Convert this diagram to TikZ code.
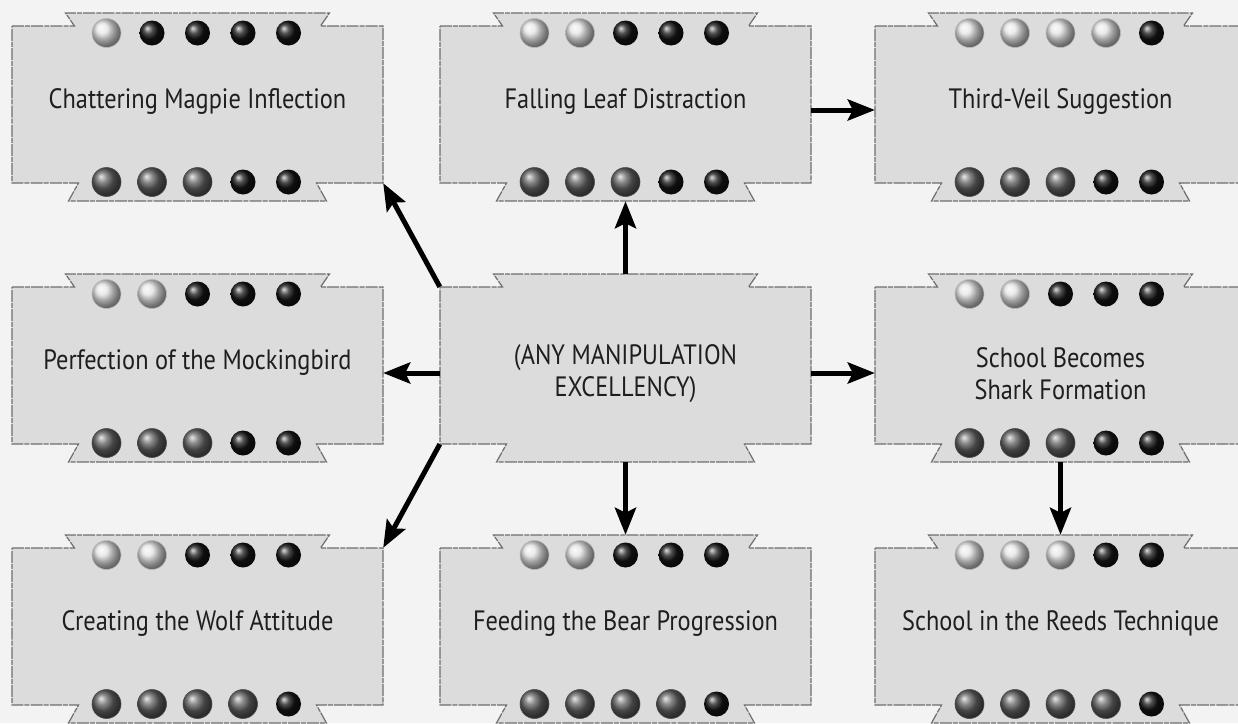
\documentclass[tikz,border=0pt]{standalone}
\usepackage{fontspec}
\setmainfont{PT Sans}[FakeStretch=0.87]
\usetikzlibrary{arrows.meta,calc}
\definecolor{bgc}{HTML}{F3F3F3}
\definecolor{boxc}{HTML}{DCDCDC}
\definecolor{edgec}{HTML}{6E6E6E}
\definecolor{txtc}{HTML}{1E1E1E}
\tikzset{
  boxnode/.style={rectangle, minimum width=371pt, minimum height=188pt, inner sep=0pt, draw=none},
  boxline/.style={fill=boxc, draw=edgec, line width=1.2pt, dash pattern=on 12pt off 1.2pt on 5pt off 1pt, line join=miter},
  boxtext/.style={font=\fontsize{28}{32}\selectfont, text=txtc, align=center, inner sep=0pt},
  dotL/.style={circle, inner sep=0pt, minimum size=29pt, ball color=gray!22, draw=gray!55, line width=0.6pt},
  dotD/.style={circle, inner sep=0pt, minimum size=29pt, ball color=black!62, draw=black!70, line width=0.6pt},
  dotB/.style={circle, inner sep=0pt, minimum size=25pt, ball color=black!92, draw=none},
  conn/.style={line width=5pt, -{Stealth[length=27pt,width=21pt,inset=5pt]}},
}
\newcommand\tagbox[3]{%
  \node[boxnode] (#1) at (#2,#3) {};
  \draw[boxline, shift={(#1.center)}] (-185.5,-81) -- (-123,-81) -- (-132,-94) -- (132,-94) -- (123,-81) -- (185.5,-81) -- (185.5,76) -- (119,76) -- (129,94) -- (-129,94) -- (-119,76) -- (-185.5,76) -- cycle;
}
\newcommand\dotrow[4]{%
  \foreach \k [count=\i] in {#4} {
    \node[dot\k] (#1#2\i) at ($(#1.center)+({(\i-3)*45.5},#3)$) {};
  }%
}
\begin{document}
\begin{tikzpicture}[x=1pt,y=-1pt]
\path[use as bounding box, fill=bgc] (0,0) rectangle (1238,723);
\clip (0,0) rectangle (1238,723);

\tagbox{b1}{197.5}{107}
\tagbox{b2}{625.5}{107}
\tagbox{b3}{1060.5}{107}
\tagbox{b4}{197.5}{368}
\tagbox{cen}{625.5}{368}
\tagbox{b6}{1060.5}{368}
\tagbox{b7}{197.5}{629}
\tagbox{b8}{625.5}{629}
\tagbox{b9}{1060.5}{629}

\dotrow{b1}{t}{-74}{L,B,B,B,B}
\dotrow{b1}{s}{75}{D,D,D,B,B}
\dotrow{b2}{t}{-74}{L,L,B,B,B}
\dotrow{b2}{s}{75}{D,D,D,B,B}
\dotrow{b3}{t}{-74}{L,L,L,L,B}
\dotrow{b3}{s}{75}{D,D,D,B,B}
\dotrow{b4}{t}{-74}{L,L,B,B,B}
\dotrow{b4}{s}{75}{D,D,D,B,B}
\dotrow{b6}{t}{-74}{L,L,B,B,B}
\dotrow{b6}{s}{75}{D,D,D,B,B}
\dotrow{b7}{t}{-74}{L,L,B,B,B}
\dotrow{b7}{s}{75}{D,D,D,D,B}
\dotrow{b8}{t}{-74}{L,L,B,B,B}
\dotrow{b8}{s}{75}{D,D,D,D,B}
\dotrow{b9}{t}{-74}{L,L,L,B,B}
\dotrow{b9}{s}{75}{D,D,D,D,B}

\node[boxtext, anchor=base] (b1x) at ($(b1.center)+(0,1)$) {Chattering Magpie Inflection};
\node[boxtext, anchor=base] (b2x) at ($(b2.center)+(0,1)$) {Falling Leaf Distraction};
\node[boxtext, anchor=base] (b3x) at ($(b3.center)+(0,1)$) {Third-Veil Suggestion};
\node[boxtext, anchor=base] (b4x) at ($(b4.center)+(0,1)$) {Perfection of the Mockingbird};
\node[boxtext] (cenx) at ($(cen.center)+(0,6)$) {(ANY MANIPULATION\\EXCELLENCY)};
\node[boxtext] (b6x) at ($(b6.center)+(0,6)$) {School Becomes\\Shark Formation};
\node[boxtext, anchor=base] (b7x) at ($(b7.center)+(0,1)$) {Creating the Wolf Attitude};
\node[boxtext, anchor=base] (b8x) at ($(b8.center)+(0,1)$) {Feeding the Bear Progression};
\node[boxtext, anchor=base] (b9x) at ($(b9.center)+(0,1)$) {School in the Reeds Technique};

\draw[conn] ($(cen.north west)+(0,13)$) -- ($(b1.south east)+(0,-18)$);
\draw[conn] (cen.north) -- (b2.south);
\draw[conn] ($(b2.east)+(0,3)$) -- ($(b3.west)+(0,3)$);
\draw[conn] ($(cen.west)+(0,5)$) -- ($(b4.east)+(0,5)$);
\draw[conn] ($(cen.east)+(0,5)$) -- ($(b6.west)+(0,5)$);
\draw[conn] ($(cen.south west)+(0,-18)$) -- ($(b7.north east)+(0,13)$);
\draw[conn] (cen.south) -- (b8.north);
\draw[conn] (b6.south) -- (b9.north);
\end{tikzpicture}
\end{document}
